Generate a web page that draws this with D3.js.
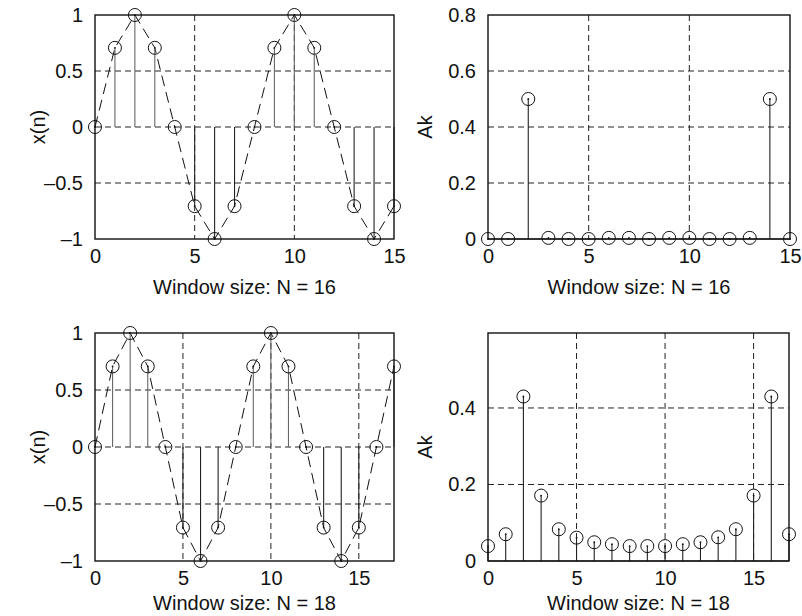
<!DOCTYPE html>
<html>
<head>
<meta charset="utf-8">
<script src="https://cdn.jsdelivr.net/npm/d3@7"></script>
<style>
  body { margin: 0; background: #fff; }
  svg text { font-family: "Liberation Sans", Arial, sans-serif; fill: #111; }
</style>
</head>
<body>
<div id="chart"></div>
<script>
// signal samples, N = 16 and N = 18
const xn16 = [0, 0.707, 1, 0.707, 0, -0.707, -1, -0.707, 0, 0.707, 1, 0.707, 0, -0.707, -1, -0.707];
const xn18 = [0, 0.707, 1, 0.707, 0, -0.707, -1, -0.707, 0, 0.707, 1, 0.707, 0, -0.707, -1, -0.707, 0, 0.707];

// amplitude spectra
const ak16 = [0, 0, 0.5, 0.004, 0, 0, 0.004, 0.004, 0, 0.004, 0.004, 0, 0, 0.004, 0.5, 0];
const ak18 = [0.039, 0.07, 0.43, 0.171, 0.083, 0.061, 0.049, 0.044, 0.039, 0.039, 0.039, 0.044, 0.049, 0.062, 0.083, 0.171, 0.43, 0.07];

const xTicks16 = [0, 5, 10, 15];
const xTicks18 = [0, 5, 10, 15];
const yTicksX = [-1, -0.5, 0, 0.5, 1];
const yTicksAk16 = [0, 0.2, 0.4, 0.6, 0.8];
const yTicksAk18 = [0, 0.2, 0.4];
const xLabel16 = "Window size: N = 16";
const xLabel18 = "Window size: N = 18";

const w = 802, h = 616;
const fs = "20px";

const svg = d3.select("#chart")
    .append("svg")
    .attr("width", w)
    .attr("height", h);

function fmt(v) {
    if (v === 0) return "0";
    var s = String(Math.abs(v));
    return (v < 0 ? "\u2013" : "") + s;
}

function drawPanel(p) {
    const g = svg.append("g");

    const xScale = d3.scaleLinear().domain(p.xDomain).range([p.left, p.right]);
    const yScale = d3.scaleLinear().domain(p.yDomain).range([p.bottom, p.top]);

    // grid
    g.selectAll(".vgrid")
        .data(p.xGrid)
        .enter()
        .append("line")
        .attr("x1", d => xScale(d))
        .attr("x2", d => xScale(d))
        .attr("y1", p.top)
        .attr("y2", p.bottom)
        .attr("stroke", "#222")
        .attr("stroke-width", 1)
        .attr("stroke-dasharray", "6,4");

    g.selectAll(".hgrid")
        .data(p.yGrid)
        .enter()
        .append("line")
        .attr("x1", p.left)
        .attr("x2", p.right)
        .attr("y1", d => yScale(d))
        .attr("y2", d => yScale(d))
        .attr("stroke", "#222")
        .attr("stroke-width", 1)
        .attr("stroke-dasharray", "6,4");

    // axes (labels only, no tick marks)
    const xAxis = d3.axisBottom(xScale).tickValues(p.xTicks).tickSize(0).tickPadding(10).tickFormat(fmt);
    const yAxis = d3.axisLeft(yScale).tickValues(p.yTicks).tickSize(0).tickPadding(12).tickFormat(fmt);

    const gx = g.append("g")
        .attr("transform", "translate(0," + p.bottom + ")")
        .call(xAxis);
    gx.select(".domain").remove();
    gx.selectAll("text").style("font-size", fs).attr("fill", "#111");

    const gy = g.append("g")
        .attr("transform", "translate(" + p.left + ",0)")
        .call(yAxis);
    gy.select(".domain").remove();
    gy.selectAll("text").style("font-size", fs).attr("fill", "#111");

    // connecting dashed line
    if (p.connect) {
        const line = d3.line()
            .x((d, i) => xScale(i))
            .y(d => yScale(d));
        g.append("path")
            .datum(p.values)
            .attr("d", line)
            .attr("fill", "none")
            .attr("stroke", "#111")
            .attr("stroke-width", 1)
            .attr("stroke-dasharray", "11,6");
    }

    // stems
    g.selectAll(".stem")
        .data(p.values)
        .enter()
        .append("line")
        .attr("x1", (d, i) => xScale(i))
        .attr("x2", (d, i) => xScale(i))
        .attr("y1", yScale(0))
        .attr("y2", d => yScale(d))
        .attr("stroke", d => d > 0 && p.connect ? "#666" : "#222")
        .attr("stroke-width", 1.1);

    // frame
    g.append("rect")
        .attr("x", p.left)
        .attr("y", p.top)
        .attr("width", p.right - p.left)
        .attr("height", p.bottom - p.top)
        .attr("fill", "none")
        .attr("stroke", "#111")
        .attr("stroke-width", 1.4);

    // baseline for Ak plots
    if (!p.connect) {
        g.append("line")
            .attr("x1", p.left)
            .attr("x2", xScale(p.values.length - 1))
            .attr("y1", yScale(0))
            .attr("y2", yScale(0))
            .attr("stroke", "#111")
            .attr("stroke-width", 1.2);
    }

    // markers
    g.selectAll(".mk")
        .data(p.values)
        .enter()
        .append("circle")
        .attr("cx", (d, i) => xScale(i))
        .attr("cy", d => yScale(d))
        .attr("r", 6.5)
        .attr("fill", "none")
        .attr("stroke", "#111")
        .attr("stroke-width", 1);

    g.selectAll(".dot")
        .data(p.values)
        .enter()
        .append("circle")
        .attr("cx", (d, i) => xScale(i))
        .attr("cy", d => yScale(d))
        .attr("r", 0.9)
        .attr("fill", "#111");

    // labels
    g.append("text")
        .attr("x", (p.left + p.right) / 2)
        .attr("y", p.labelY)
        .style("text-anchor", "middle")
        .style("font-size", fs)
        .text(p.xLabel);

    g.append("text")
        .attr("transform", "rotate(-90)")
        .attr("x", -(p.top + p.bottom) / 2)
        .attr("y", p.yLabelX)
        .attr("dy", "0.35em")
        .style("text-anchor", "middle")
        .style("font-size", fs)
        .text(p.yLabel);
}

drawPanel({
    values: xn16, connect: true,
    left: 95, right: 394, top: 15, bottom: 239,
    xDomain: [0, 15], yDomain: [-1, 1],
    xTicks: xTicks16, yTicks: yTicksX,
    xGrid: [5, 10], yGrid: [-0.5, 0, 0.5],
    xLabel: xLabel16, yLabel: "x(n)", labelY: 294, yLabelX: 38
});

drawPanel({
    values: ak16, connect: false,
    left: 488, right: 790, top: 15, bottom: 239,
    xDomain: [0, 15], yDomain: [0, 0.8],
    xTicks: xTicks16, yTicks: yTicksAk16,
    xGrid: [5, 10], yGrid: [0.2, 0.4, 0.6],
    xLabel: xLabel16, yLabel: "Ak", labelY: 294, yLabelX: 425
});

drawPanel({
    values: xn18, connect: true,
    left: 95, right: 394, top: 333, bottom: 561,
    xDomain: [0, 17], yDomain: [-1, 1],
    xTicks: xTicks18, yTicks: yTicksX,
    xGrid: [5, 10, 15], yGrid: [-0.5, 0, 0.5],
    xLabel: xLabel18, yLabel: "x(n)", labelY: 610, yLabelX: 38
});

drawPanel({
    values: ak18, connect: false,
    left: 488, right: 789, top: 333, bottom: 561,
    xDomain: [0, 17], yDomain: [0, 0.596],
    xTicks: xTicks18, yTicks: yTicksAk18,
    xGrid: [5, 10, 15], yGrid: [0.2, 0.4],
    xLabel: xLabel18, yLabel: "Ak", labelY: 610, yLabelX: 425
});
</script>
</body>
</html>
